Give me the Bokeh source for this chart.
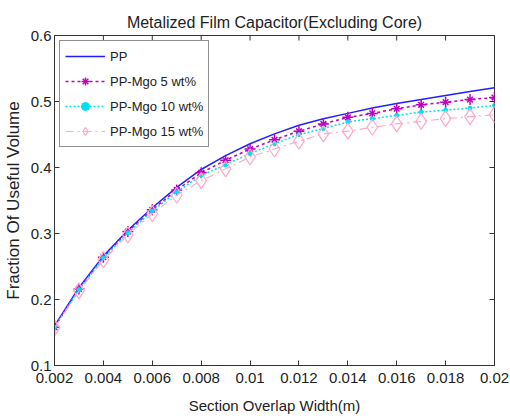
import math
from bokeh.plotting import figure
from bokeh.models import Range1d, FixedTicker, Legend, LegendItem
from bokeh.embed import file_html
from bokeh.resources import INLINE

x_vals = [0.002, 0.003, 0.004, 0.005, 0.006, 0.007, 0.008, 0.009, 0.010, 0.011,
          0.012, 0.013, 0.014, 0.015, 0.016, 0.017, 0.018, 0.019, 0.020]
pp = [0.160, 0.218, 0.266, 0.305, 0.339, 0.370, 0.397, 0.418, 0.436, 0.451,
      0.464, 0.474, 0.482, 0.490, 0.497, 0.503, 0.509, 0.515, 0.521]
mgo5 = [0.158, 0.216, 0.264, 0.303, 0.336, 0.366, 0.392, 0.411, 0.428, 0.442,
        0.455, 0.466, 0.476, 0.482, 0.489, 0.495, 0.499, 0.503, 0.506]
mgo10 = [0.158, 0.215, 0.263, 0.301, 0.334, 0.363, 0.388, 0.404, 0.421, 0.436,
         0.450, 0.459, 0.469, 0.474, 0.479, 0.484, 0.487, 0.490, 0.494]
mgo15 = [0.157, 0.213, 0.260, 0.298, 0.330, 0.358, 0.380, 0.398, 0.416, 0.428,
         0.440, 0.451, 0.455, 0.461, 0.466, 0.470, 0.474, 0.477, 0.480]

x_ticks = [0.002, 0.004, 0.006, 0.008, 0.01, 0.012, 0.014, 0.016, 0.018, 0.02]
x_tick_labels = ["0.002", "0.004", "0.006", "0.008", "0.01", "0.012", "0.014", "0.016", "0.018", "0.02"]
y_ticks = [0.1, 0.2, 0.3, 0.4, 0.5, 0.6]
y_tick_labels = ["0.1", "0.2", "0.3", "0.4", "0.5", "0.6"]

X_MIN, X_MAX = 0.002, 0.02
Y_MIN, Y_MAX = 0.1, 0.6

FONT = "Liberation Sans"
AX = "#333333"

p = figure(width=510, height=419, output_backend="svg", toolbar_location=None,
           x_range=Range1d(X_MIN, X_MAX), y_range=Range1d(Y_MIN, Y_MAX),
           min_border_left=50, min_border_right=16, min_border_top=35, min_border_bottom=54,
           title="Metalized Film Capacitor(Excluding Core)")
p.title.align = "center"
p.title.text_font = FONT
p.title.text_font_size = "16px"
p.title.text_font_style = "normal"
p.title.text_color = "#222222"
p.title.offset = 0
p.title.standoff = 9
p.grid.visible = False
p.outline_line_color = AX
p.outline_line_width = 1

p.xaxis.ticker = FixedTicker(ticks=x_ticks)
p.xaxis.major_label_overrides = {t: l for t, l in zip(x_ticks, x_tick_labels)}
p.yaxis.ticker = FixedTicker(ticks=y_ticks)
p.yaxis.major_label_overrides = {t: l for t, l in zip(y_ticks, y_tick_labels)}
p.xaxis.axis_label = "Section Overlap Width(m)"
p.yaxis.axis_label = "Fraction Of Useful Volume"

for ax in [p.xaxis[0], p.yaxis[0]]:
    ax.major_tick_in = 5
    ax.major_tick_out = 0
    ax.minor_tick_line_color = None
    ax.axis_line_color = AX
    ax.major_tick_line_color = AX
    ax.major_label_text_font = FONT
    ax.major_label_text_font_size = "15px"
    ax.major_label_text_color = "#222222"
    ax.axis_label_text_font = FONT
    ax.axis_label_text_font_style = "normal"
    ax.axis_label_text_color = "#222222"
p.xaxis.axis_label_text_font_size = "15px"
p.yaxis.axis_label_text_font_size = "17px"
p.xaxis.major_label_standoff = 7
p.yaxis.major_label_standoff = 3
p.xaxis.axis_label_standoff = 11
p.yaxis.axis_label_standoff = 5

# inward ticks on the top and right edges of the box (clipped to the frame)
p.scatter(x_ticks, [Y_MAX] * len(x_ticks), marker="dash", angle=math.pi / 2, size=10,
          line_color=AX, line_width=1)
p.scatter([X_MAX] * len(y_ticks), y_ticks, marker="dash", size=10,
          line_color=AX, line_width=1)

c_pp = "#2020ff"
c5 = "#c000c0"
c10 = "#00e0f0"
c15 = "#ffa8cc"

r_pp = p.line(x_vals, pp, line_color=c_pp, line_width=1.5)

r5l = p.line(x_vals, mgo5, line_color=c5, line_width=1.5, line_dash="3 3")
r5a = p.scatter(x_vals, mgo5, marker="cross", size=11, line_color=c5, line_width=1.5)
r5b = p.scatter(x_vals, mgo5, marker="x", size=8, line_color=c5, line_width=1.5)

r10l = p.line(x_vals, mgo10, line_color=c10, line_width=1.5, line_dash="2 2")
r10m = p.scatter(x_vals, mgo10, marker="circle", size=4, line_color=c10, fill_color=c10)

r15l = p.line(x_vals, mgo15, line_color=c15, line_width=1.2, line_dash="8 4 2 4")
r15m = p.scatter(x_vals, mgo15, marker="diamond", size=16, line_color=c15, fill_color=None, line_width=1.2)

legend = Legend(items=[
    LegendItem(label="PP", renderers=[r_pp]),
    LegendItem(label="PP-Mgo 5 wt%", renderers=[r5l, r5a, r5b]),
    LegendItem(label="PP-Mgo 10 wt%", renderers=[r10l, r10m]),
    LegendItem(label="PP-Mgo 15 wt%", renderers=[r15l, r15m]),
], location="top_left")
legend.label_text_font = FONT
legend.label_text_font_size = "13px"
legend.label_text_color = "#222222"
legend.border_line_color = "#222222"
legend.border_line_width = 1
legend.margin = 5
legend.padding = 5
legend.spacing = 5
legend.glyph_width = 40
legend.glyph_height = 20
legend.label_height = 20
legend.label_standoff = 5
p.add_layout(legend)

open("out.html", "w").write(file_html(p, INLINE))
